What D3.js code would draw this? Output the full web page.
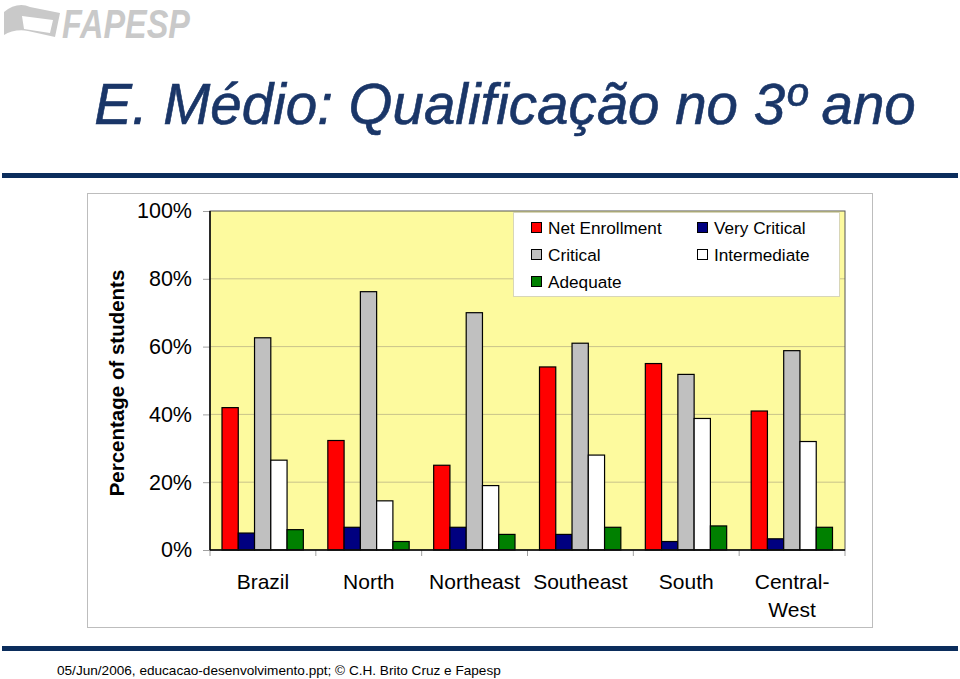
<!DOCTYPE html>
<html><head><meta charset="utf-8">
<script src="https://cdn.jsdelivr.net/npm/d3@7"></script>
<style>body{margin:0;background:#fff;}svg{display:block;font-family:Arial,"Liberation Sans",sans-serif;}</style>
</head><body><svg id="c" width="960" height="679"></svg>
<script>
const categories = ["Brazil","North","Northeast","Southeast","South","Central-West"];
const seriesNames = ["Net Enrollment","Very Critical","Critical","Intermediate","Adequate"];
const netEnrollment = [42, 32.3, 25, 54, 55, 41];
const veryCritical = [5, 6.7, 6.7, 4.6, 2.5, 3.3];
const critical = [62.6, 76.2, 70, 61, 51.8, 58.8];
const intermediate = [26.5, 14.5, 19, 28, 38.8, 32];
const adequate = [6, 2.5, 4.6, 6.7, 7.1, 6.7];
const yTicks = [0, 20, 40, 60, 80, 100];
const colors = ["#ff0000","#000080","#c0c0c0","#ffffff","#008000"];
const seriesValues = [netEnrollment, veryCritical, critical, intermediate, adequate];

const svg = d3.select("#c");
// logo
const logo = svg.append("g").attr("fill","#c9c9c9");
logo.append("path").attr("d","M4,12 C12,5 22,3 30,7 L60,13 L55,37 L28,31 C20,29 10,31 4,35 Z");
logo.append("path").attr("d","M22,16 L53,20 L50,33 L24,29 Z").attr("fill","#fff");
logo.append("text").attr("x",62).attr("y",38).attr("font-size",40).attr("font-weight","bold")
  .attr("font-style","italic").attr("textLength",128).attr("lengthAdjust","spacingAndGlyphs").text("FAPESP");

// title
svg.append("text").attr("x",505).attr("y",124).attr("text-anchor","middle")
  .attr("font-size",56.5).attr("font-style","italic").attr("fill","#1a3668")
  .attr("stroke","#1a3668").attr("stroke-width",0.6)
  .text("E. Médio: Qualificação no 3º ano");
svg.append("rect").attr("x",2).attr("y",173).attr("width",956).attr("height",5).attr("fill","#0b2d5c");
svg.append("rect").attr("x",2).attr("y",646).attr("width",956).attr("height",5).attr("fill","#0b2d5c");
svg.append("text").attr("x",57).attr("y",675).attr("font-size",13.6).attr("fill","#000")
  .text("05/Jun/2006, educacao-desenvolvimento.ppt; © C.H. Brito Cruz e Fapesp");

// chart box
svg.append("rect").attr("x",87.5).attr("y",193.5).attr("width",785).attr("height",434)
  .attr("fill","#fff").attr("stroke","#bdbdbd");

const L=210, R=845, T=211, B=550;
const x0 = d3.scaleBand().domain(categories).range([L,R]).padding(0);
const x1 = d3.scaleBand().domain(seriesNames).range([12, x0.bandwidth()-12.5]).padding(0);
const y = d3.scaleLinear().domain([0,100]).range([B,T]);

svg.append("rect").attr("x",L).attr("y",T).attr("width",R-L).attr("height",B-T).attr("fill","#fdfa9e");
svg.append("g").selectAll("line").data(yTicks.filter(d=>d>0&&d<100)).join("line")
  .attr("x1",L).attr("x2",R).attr("y1",d=>y(d)).attr("y2",d=>y(d)).attr("stroke","#c9c38a").attr("stroke-width",1);

// y axis
const yAxis = svg.append("g").attr("transform",`translate(${L},0)`)
  .call(d3.axisLeft(y).tickValues(yTicks).tickFormat(d=>d+"%").tickSize(7).tickPadding(11));
yAxis.select(".domain").remove();
yAxis.selectAll("line").attr("stroke","#a0a0a0");
yAxis.selectAll("text").attr("font-size",21.5).attr("fill","#000").attr("font-family","Arial,'Liberation Sans',sans-serif");

// x axis ticks at boundaries
const bounds = categories.map(c=>x0(c)).concat([R]);
svg.append("g").selectAll("line").data(bounds).join("line")
  .attr("x1",d=>d).attr("x2",d=>d).attr("y1",B).attr("y2",B+6).attr("stroke","#a0a0a0");

// bars
const g = svg.append("g");
categories.forEach((c,i)=>{
  seriesNames.forEach((s,j)=>{
    const v = seriesValues[j][i];
    g.append("rect").attr("x",x0(c)+x1(s)).attr("y",y(v)).attr("width",x1.bandwidth())
      .attr("height",y(0)-y(v)).attr("fill",colors[j]).attr("stroke","#000").attr("stroke-width",1.2);
  });
});

// plot border
svg.append("rect").attr("x",L).attr("y",T).attr("width",R-L).attr("height",B-T)
  .attr("fill","none").attr("stroke","#555").attr("stroke-width",1);
svg.append("line").attr("x1",L).attr("x2",L).attr("y1",T).attr("y2",B).attr("stroke","#000").attr("stroke-width",1.5);
svg.append("line").attr("x1",L).attr("x2",R).attr("y1",B).attr("y2",B).attr("stroke","#000").attr("stroke-width",1.5);

// x labels
categories.forEach(c=>{
  const cx = x0(c)+x0.bandwidth()/2;
  const t = svg.append("text").attr("x",cx).attr("y",589).attr("text-anchor","middle").attr("font-size",21);
  if (c==="Central-West") {
    t.append("tspan").attr("x",cx).attr("dy",0).text("Central-");
    t.append("tspan").attr("x",cx).attr("dy",28).text("West");
  } else t.text(c);
});

// y label
svg.append("text").attr("transform","translate(124,383) rotate(-90)").attr("text-anchor","middle")
  .attr("font-size",20.5).attr("font-weight","bold").text("Percentage of students");

// legend
svg.append("rect").attr("x",513.5).attr("y",212.5).attr("width",326).attr("height",84)
  .attr("fill","#fff").attr("stroke","#d8d6b8");
const legPos = [[531,228],[697,228],[531,255],[697,255],[531,282]];
seriesNames.forEach((s,j)=>{
  const [lx,ly]=legPos[j];
  svg.append("rect").attr("x",lx+0.5).attr("y",ly-5.5).attr("width",10).attr("height",10)
    .attr("fill",colors[j]).attr("stroke","#000").attr("stroke-width",1);
  svg.append("text").attr("x",lx+17).attr("y",ly+6).attr("font-size",17.2).text(s);
});
</script></body></html>
